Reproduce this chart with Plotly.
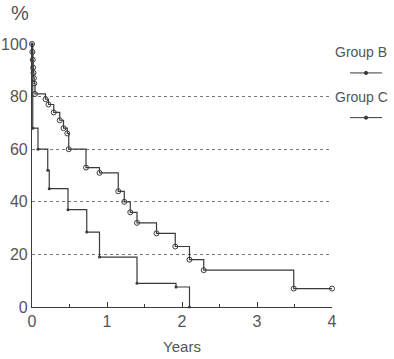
import plotly.graph_objects as go

# Kaplan-Meier style step data
years_b = [0, 0.005, 0.01, 0.015, 0.02, 0.025, 0.03, 0.04, 0.18, 0.22, 0.29, 0.37, 0.42, 0.47,
           0.49, 0.72, 0.90, 1.15, 1.23, 1.31, 1.40, 1.66, 1.91, 2.10, 2.29, 3.49, 4.0]
surv_b = [100, 97, 94, 91, 89, 87, 85, 81, 79, 77, 74, 71, 68, 66,
          60, 53, 51, 44, 40, 36, 32, 28, 23, 18, 14, 7, 7]

years_c = [0, 0.01, 0.08, 0.21, 0.23, 0.48, 0.73, 0.90, 1.40, 1.92, 2.10]
surv_c = [100, 68, 60, 52, 45, 37, 28.5, 19, 9, 7.6, 0]

x_ticks = [0, 1, 2, 3, 4]
y_ticks = [0, 20, 40, 60, 80, 100]
series_names = ["Group B", "Group C"]

LINE = "#3a3a3a"
TEXT = "#555555"
FONT = "Liberation Sans"

fig = go.Figure()
fig.add_trace(go.Scatter(
    x=years_b, y=surv_b, mode="lines+markers", line_shape="hv",
    line=dict(color=LINE, width=1.2),
    marker=dict(symbol="circle-open", size=5, color=LINE, line=dict(width=1)),
    name=series_names[0], cliponaxis=False, showlegend=False))
fig.add_trace(go.Scatter(
    x=years_c, y=surv_c, mode="lines+markers", line_shape="hv",
    line=dict(color=LINE, width=1.2),
    marker=dict(symbol="circle", size=3, color=LINE),
    name=series_names[1], cliponaxis=False, showlegend=False))

fig.update_layout(
    width=394, height=359,
    margin=dict(l=32, r=62, t=44, b=52, autoexpand=False),
    paper_bgcolor="white", plot_bgcolor="white",
    font=dict(family=FONT, color=TEXT, size=15),
    xaxis=dict(range=[0, 4], tickvals=x_ticks, ticktext=[str(v) for v in x_ticks],
               automargin=False,
               showgrid=False, zeroline=False, showline=True, linecolor=LINE, linewidth=1.2,
               ticks="inside", ticklen=5, tickcolor=LINE,
               minor=dict(dtick=0.5, ticks="inside", ticklen=3, tickcolor=LINE),
               tickfont=dict(size=16, color=TEXT),
               title=dict(text="Years", font=dict(size=15, color=TEXT), standoff=12)),
    yaxis=dict(range=[0, 100], tickvals=y_ticks, ticktext=[str(v) for v in y_ticks],
               automargin=False,
               showgrid=True, gridcolor="#777777", griddash="dot", gridwidth=1,
               zeroline=False, showline=True, linecolor=LINE, linewidth=1.2,
               ticks="", tickfont=dict(size=16, color=TEXT)),
)

# "%" label
fig.add_annotation(text="%", xref="paper", yref="paper", x=-0.077, y=1.0, yshift=18,
                   xanchor="left", yanchor="bottom", showarrow=False,
                   font=dict(size=20, color=TEXT))

# custom legend: name above a short line with a dot
for i, name in enumerate(series_names):
    ytxt = 0.97 - i * 0.17
    fig.add_annotation(text=name, xref="paper", yref="paper", x=1.005, y=ytxt,
                       xanchor="left", yanchor="middle", showarrow=False,
                       font=dict(size=14, color=TEXT))
    ysym = ytxt - 0.08
    fig.add_shape(type="line", xref="paper", yref="paper", x0=1.06, x1=1.167,
                  y0=ysym, y1=ysym, line=dict(color=LINE, width=1))
    fig.add_shape(type="circle", xref="paper", yref="paper",
                  x0=1.108, x1=1.119, y0=ysym - 0.006, y1=ysym + 0.006,
                  line=dict(color=LINE, width=1), fillcolor=LINE)

fig.write_html("out.html", config={"displayModeBar": False},
               post_script="document.body.style.margin='0';document.body.style.padding='0';")
